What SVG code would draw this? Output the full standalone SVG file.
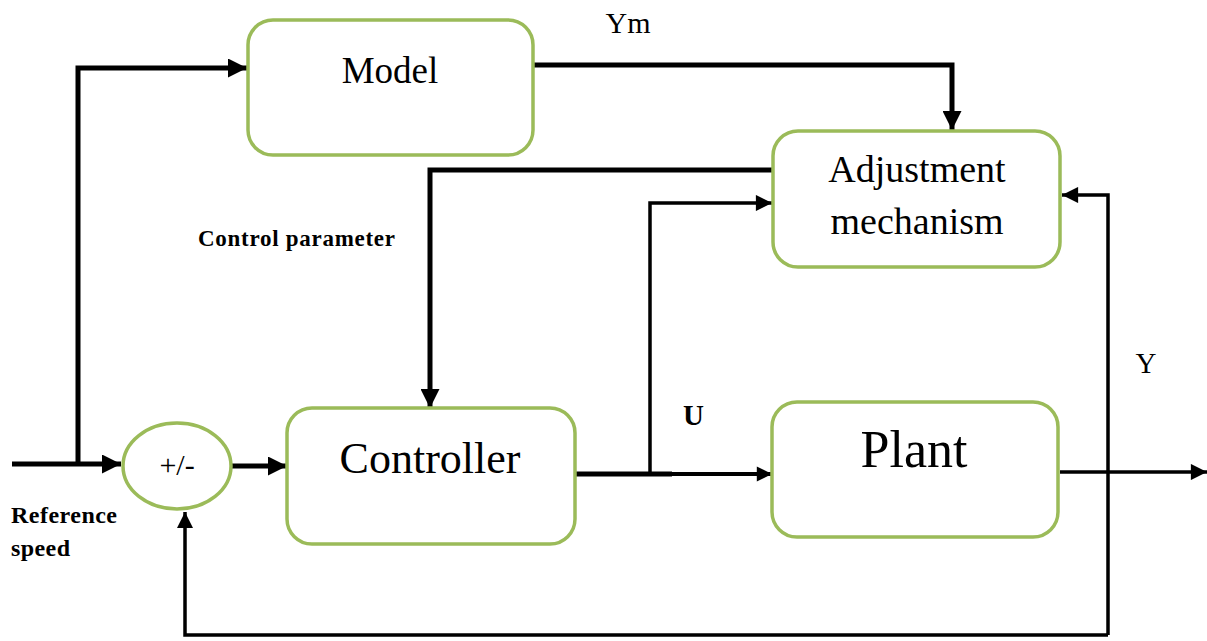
<svg xmlns="http://www.w3.org/2000/svg" width="1207" height="641" viewBox="0 0 1207 641">
<style>
.box{fill:#fff;stroke:#9bbb59;stroke-width:3.5}
.w{fill:none;stroke:#000;stroke-linejoin:miter}
</style>
<defs>
<marker id="a" viewBox="0 0 10 10" refX="10" refY="5" markerWidth="4.4" markerHeight="3.8" orient="auto">
<path d="M0,0 L10,5 L0,10 z" fill="#000"/>
</marker>
<marker id="a2" viewBox="0 0 10 10" refX="10" refY="5" markerWidth="5.5" markerHeight="4.6" orient="auto">
<path d="M0,0 L10,5 L0,10 z" fill="#000"/>
</marker>
</defs>
<rect width="1207" height="641" fill="#fff"/>
<g id="connectors">
<path class="w" stroke-width="5" d="M12,464 H121" marker-end="url(#a)"/>
<path class="w" stroke-width="5" d="M78,464 V68 H247" marker-end="url(#a)"/>
<path class="w" stroke-width="5" d="M232,466 H287" marker-end="url(#a)"/>
<path class="w" stroke-width="5" d="M533,65 H952 V130" marker-end="url(#a)"/>
<path class="w" stroke-width="5" d="M772,170 H430 V408" marker-end="url(#a)"/>
<path class="w" stroke-width="5" d="M575,474 H672"/>
<path class="w" stroke-width="4" d="M670,474 H772" marker-end="url(#a)"/>
<path class="w" stroke-width="3.5" d="M650,474 V203 H772" marker-end="url(#a2)"/>
<path class="w" stroke-width="3.5" d="M1060,472 H1207" marker-end="url(#a2)"/>
<path class="w" stroke-width="3.5" d="M1108,635 V195 H1062" marker-end="url(#a2)"/>
<path class="w" stroke-width="3.5" d="M1108,635 H185 V512" marker-end="url(#a2)"/>
</g>
<g font-family="Liberation Serif, Times New Roman, DejaVu Serif, serif" fill="#000">
<g id="model"><rect class="box" x="248" y="20" width="285" height="135" rx="25"/><text x="390" y="83" font-size="37" text-anchor="middle">Model</text></g>
<g id="adjustment"><rect class="box" x="773" y="131" width="287" height="136" rx="25"/><text x="917" y="182" font-size="38" text-anchor="middle">Adjustment</text><text x="917" y="234" font-size="38" text-anchor="middle">mechanism</text></g>
<g id="controller"><rect class="box" x="287" y="408" width="288" height="136" rx="25"/><text x="430" y="473" font-size="44" text-anchor="middle">Controller</text></g>
<g id="plant"><rect class="box" x="772" y="402" width="286" height="135" rx="25"/><text x="914" y="467" font-size="52" text-anchor="middle">Plant</text></g>
<g id="sum"><ellipse cx="177" cy="466" rx="54" ry="43" fill="#fff" stroke="#9bbb59" stroke-width="3.5"/><text x="177" y="475" font-size="30" text-anchor="middle">+/-</text></g>
<g id="labels">
<text x="628" y="33" font-size="30" text-anchor="middle">Ym</text>
<text x="198" y="246" font-size="23" font-weight="bold" textLength="197">Control parameter</text>
<text x="683" y="425" font-size="29" font-weight="bold">U</text>
<text x="1146" y="373" font-size="29" text-anchor="middle">Y</text>
<text x="11" y="523" font-size="24" font-weight="bold" textLength="106">Reference</text>
<text x="11" y="556" font-size="24" font-weight="bold" textLength="59">speed</text>
</g>
</g>
</svg>
